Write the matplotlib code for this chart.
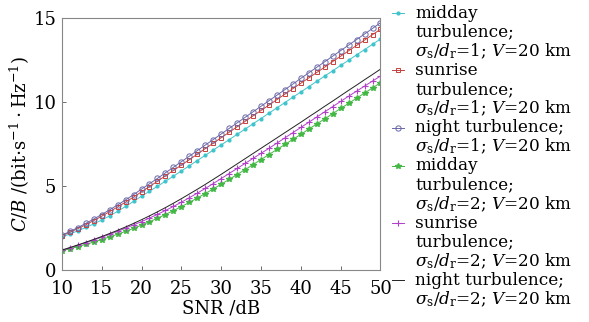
import matplotlib
matplotlib.use("Agg")
import matplotlib.pyplot as plt
from matplotlib.lines import Line2D

plt.rcParams['font.family'] = 'DejaVu Serif'
plt.rcParams['mathtext.fontset'] = 'dejavuserif'
plt.rcParams['font.size'] = 13

snr_db = list(range(10, 51))

# capacity per unit bandwidth, sigma_s/d_r = 1
midday_1 = [1.98, 2.15, 2.34, 2.54, 2.75, 2.98, 3.23, 3.50, 3.79, 4.09, 4.40,
            4.69, 4.99, 5.29, 5.59, 5.90, 6.21, 6.52, 6.83, 7.14, 7.45,
            7.76, 8.08, 8.39, 8.71, 9.02, 9.34, 9.66, 9.97, 10.29, 10.60,
            10.92, 11.23, 11.55, 11.86, 12.18, 12.49, 12.81, 13.12, 13.44, 13.75]
sunrise_1 = [2.05, 2.25, 2.47, 2.70, 2.95, 3.21, 3.48, 3.76, 4.05, 4.35, 4.66,
             4.97, 5.29, 5.61, 5.93, 6.25, 6.57, 6.90, 7.23, 7.55, 7.88,
             8.20, 8.53, 8.85, 9.18, 9.50, 9.82, 10.15, 10.47, 10.80, 11.12,
             11.44, 11.76, 12.08, 12.41, 12.73, 13.05, 13.37, 13.69, 14.01, 14.33]
night_1 = [2.08, 2.30, 2.53, 2.78, 3.04, 3.31, 3.59, 3.88, 4.18, 4.49, 4.82,
           5.14, 5.46, 5.79, 6.12, 6.45, 6.78, 7.11, 7.44, 7.77, 8.10,
           8.43, 8.76, 9.09, 9.42, 9.75, 10.08, 10.41, 10.74, 11.07, 11.41,
           11.74, 12.07, 12.40, 12.73, 13.06, 13.39, 13.72, 14.05, 14.38, 14.72]

# sigma_s/d_r = 2
midday_2 = [1.15, 1.27, 1.40, 1.53, 1.67, 1.82, 1.98, 2.14, 2.31, 2.49, 2.68,
            2.88, 3.09, 3.31, 3.54, 3.78, 4.03, 4.29, 4.56, 4.83, 5.11,
            5.40, 5.69, 5.98, 6.28, 6.58, 6.88, 7.18, 7.48, 7.78, 8.08,
            8.39, 8.70, 9.00, 9.31, 9.62, 9.92, 10.23, 10.54, 10.84, 11.15]
sunrise_2 = [1.19, 1.33, 1.48, 1.63, 1.79, 1.96, 2.13, 2.31, 2.50, 2.69, 2.89,
             3.10, 3.32, 3.55, 3.79, 4.04, 4.31, 4.58, 4.86, 5.15, 5.45,
             5.75, 6.05, 6.35, 6.65, 6.95, 7.25, 7.56, 7.87, 8.18, 8.49,
             8.80, 9.11, 9.42, 9.73, 10.04, 10.35, 10.65, 10.95, 11.25, 11.55]
night_2 = [1.19, 1.34, 1.50, 1.66, 1.83, 2.00, 2.18, 2.37, 2.57, 2.78, 3.00,
           3.23, 3.47, 3.72, 3.98, 4.25, 4.53, 4.81, 5.10, 5.40, 5.70,
           6.01, 6.32, 6.63, 6.94, 7.25, 7.56, 7.87, 8.18, 8.49, 8.80,
           9.12, 9.43, 9.75, 10.06, 10.38, 10.70, 11.01, 11.33, 11.64, 11.96]

tail = r'$\sigma_{\rm s}/d_{\rm r}$=%d; $V$=20 km'
labels = ['midday\nturbulence;\n' + tail % 1,
          'sunrise\nturbulence;\n' + tail % 1,
          'night turbulence;\n' + tail % 1,
          'midday\nturbulence;\n' + tail % 2,
          'sunrise\nturbulence;\n' + tail % 2,
          'night turbulence;\n' + tail % 2]

W, H = 589, 322
fig = plt.figure(figsize=(W / 100, H / 100), dpi=100)
ax = fig.add_axes([0.105, 0.161, 0.541, 0.783])

lw = 0.7
styles = [
    dict(color='#3fc4cc', marker='.', ms=4),
    dict(color='#c8403c', marker='s', ms=3.2, mfc='none', mew=0.7),
    dict(color='#6a68a8', marker='o', ms=3.8, mfc='none', mew=0.7),
    dict(color='#44b844', marker='*', ms=4),
    dict(color='#b040c8', marker='+', ms=4, mew=0.8),
    dict(color='#222222'),
]
series = [midday_1, sunrise_1, night_1, midday_2, sunrise_2, night_2]
for ys, st in zip(series, styles):
    ax.plot(snr_db, ys, lw=lw, **st)

ax.set_xlim(10, 50)
ax.set_ylim(0, 15)
ax.set_xticks(range(10, 51, 5))
ax.set_yticks([0, 5, 10, 15])
ax.tick_params(direction='in', length=3, width=0.6, color='#555555')
ax.tick_params(axis='x', pad=7)
ax.tick_params(axis='y', pad=4)
for s in ax.spines.values():
    s.set_color('#888888')
    s.set_linewidth(0.8)

ax.set_xlabel('SNR /dB', labelpad=1)
ax.set_ylabel(r'$C/B$ /(bit$\cdot$s$^{-1}\cdot$Hz$^{-1}$)', labelpad=1)

# legend drawn line by line, handle beside the first line of each entry
row = 0
line_h = 19.1
y0 = 13
for lab, st in zip(labels, styles):
    yh = 1 - (y0 + row * line_h) / H
    kw = dict(st)
    if 'marker' in kw:
        kw['markevery'] = [1]
    fig.add_artist(Line2D([392 / W, 398 / W, 404 / W], [yh, yh, yh],
                          lw=lw, **kw))
    for part in lab.split('\n'):
        y = 1 - (y0 + row * line_h) / H
        fig.text(415 / W, y, part, va='center', ha='left', fontsize=12.2)
        row += 1

fig.savefig('out.png', dpi=100)
